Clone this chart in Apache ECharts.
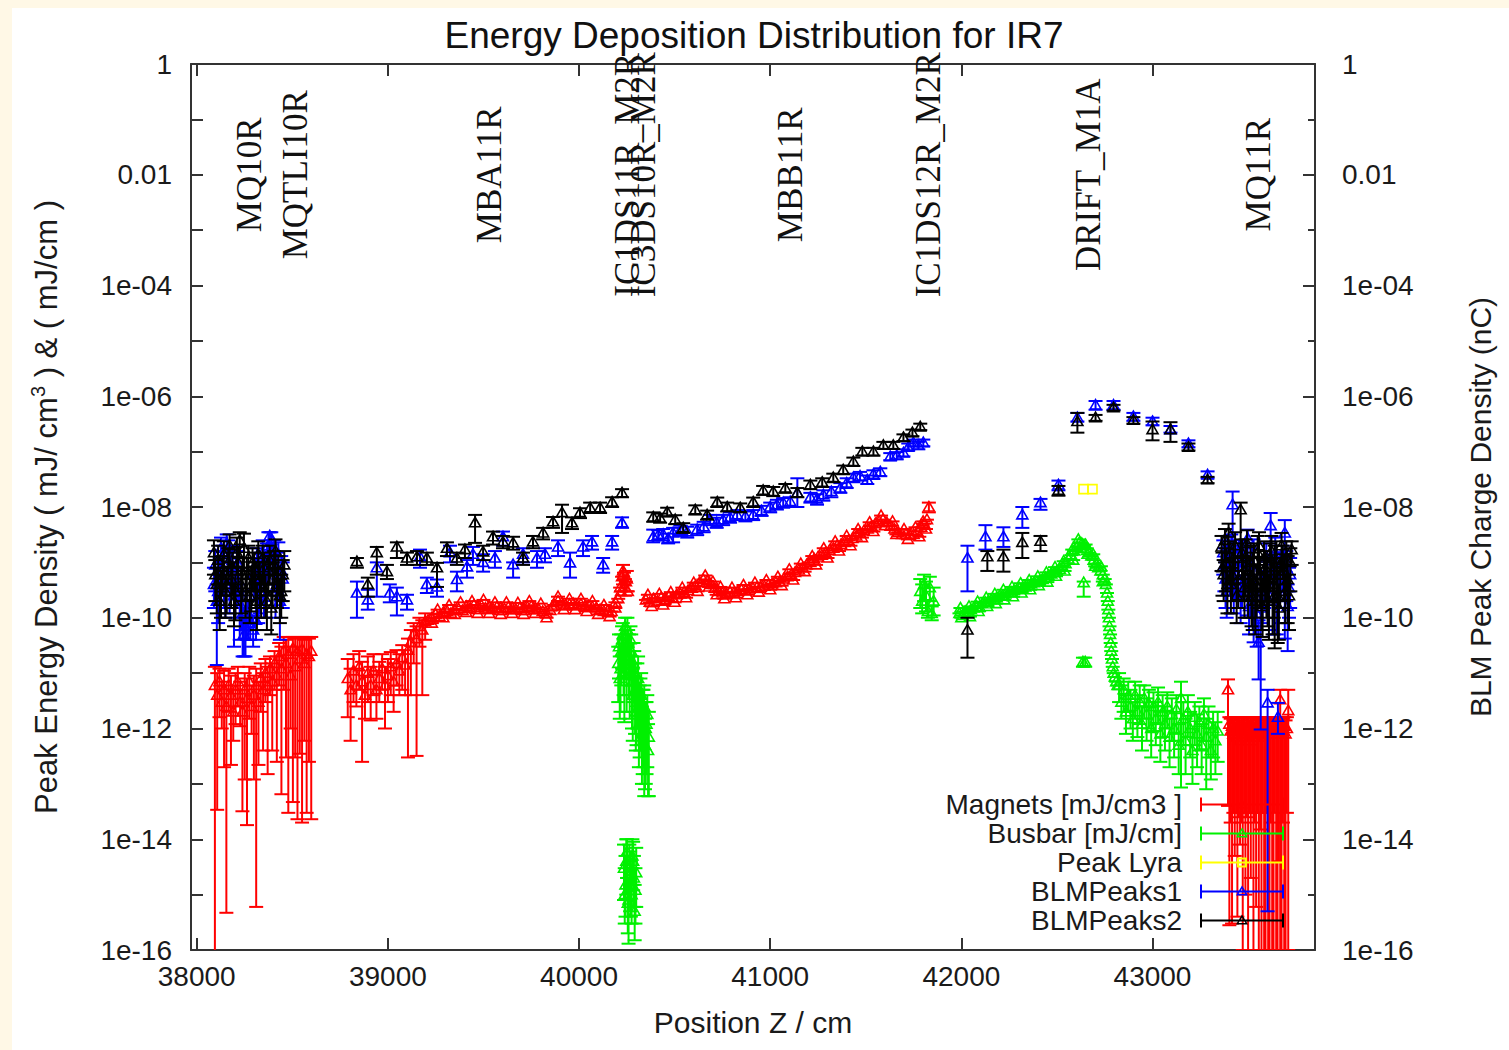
<!DOCTYPE html>
<html>
<head>
<meta charset="utf-8">
<title>Energy Deposition Distribution for IR7</title>
<script src="https://cdn.jsdelivr.net/npm/echarts@6/dist/echarts.min.js"></script>
<style>
  html, body { margin: 0; padding: 0; background: #fff8e6; }
  #chart { width: 1509px; height: 1050px; }
</style>
</head>
<body>
<div id="chart"></div>
<script>
// ---- axis ticks ----
const xTickValues = [38000, 39000, 40000, 41000, 42000, 43000];
const xTickLabels = ['38000', '39000', '40000', '41000', '42000', '43000'];
const yTickValues = [1e-16, 1e-14, 1e-12, 1e-10, 1e-8, 1e-6, 1e-4, 0.01, 1];
const yTickLabels = ['1e-16', '1e-14', '1e-12', '1e-10', '1e-08', '1e-06', '1e-04', '0.01', '1'];

// ---- element names along the beam line (drawn at y = 0.01) ----
const elementNames = ['MQ10R', 'MQTLI10R', 'MBA11R', 'IC1DS11R_M2R', 'IC3DS10R_M2R', 'MBB11R', 'IC1DS12R_M2R', 'DRIFT_M1A', 'MQ11R'];
const elementPos = [38277, 38518, 39534, 40251, 40335, 41105, 41827, 42665, 43555];
const elementLabelY = 0.01;

// ---- Magnets [mJ/cm3] : [z, value, low, high] ----
const magnetsQ10 = [
  [38095, 6e-12, 5e-17, 1.3e-11], [38107, 4e-12, 3.4e-14, 1e-11], [38119, 7e-12, 1.6e-12, 1.2e-11],
  [38131, 3e-12, 1e-12, 7e-12], [38143, 5e-12, 2e-13, 1.1e-11], [38155, 2.5e-12, 4.7e-16, 6e-12],
  [38167, 6e-12, 2e-12, 1.2e-11], [38179, 4e-12, 2.2e-13, 9e-12], [38191, 2e-12, 6e-13, 5e-12],
  [38203, 5e-12, 1.2e-12, 1e-11], [38215, 7e-12, 2.5e-12, 1.3e-11], [38227, 3e-12, 1.1e-12, 7e-12],
  [38239, 2e-12, 3.2e-14, 5e-12], [38251, 5e-12, 1.2e-13, 1e-11], [38263, 3.5e-12, 1.8e-14, 8e-12],
  [38275, 7e-12, 1.5e-12, 1.3e-11], [38287, 2.5e-12, 8e-13, 6e-12], [38299, 4e-12, 1.2e-13, 9e-12],
  [38311, 6e-12, 6e-16, 1.2e-11], [38323, 3e-12, 2.2e-13, 7e-12], [38335, 8e-12, 2e-12, 1.5e-11],
  [38347, 5e-12, 4e-13, 1e-11], [38359, 1e-11, 3e-12, 1.8e-11], [38371, 6e-12, 1.5e-13, 1.3e-11],
  [38383, 1.2e-11, 4e-12, 2e-11], [38395, 7e-12, 4e-13, 1.5e-11], [38407, 1.5e-11, 5e-12, 2.5e-11],
  [38419, 9e-12, 2.5e-13, 2e-11], [38431, 2e-11, 6e-12, 3.5e-11], [38443, 1.2e-11, 6.5e-14, 3e-11],
  [38455, 2.5e-11, 5e-12, 4.5e-11], [38467, 1.5e-11, 3e-13, 4e-11], [38479, 2.2e-11, 3e-14, 4.5e-11],
  [38491, 9e-12, 1e-12, 3e-11], [38503, 2.8e-11, 4.7e-14, 4.5e-11], [38515, 1.3e-11, 3e-13, 4.2e-11],
  [38527, 2.5e-11, 2.3e-14, 4.5e-11], [38539, 1.8e-11, 3.5e-13, 4.3e-11], [38551, 2.7e-11, 2e-14, 4.5e-11],
  [38563, 1.5e-11, 6e-13, 4e-11], [38575, 2.2e-11, 3e-14, 4.5e-11], [38587, 2e-11, 2.5e-13, 4.2e-11],
  [38599, 2.5e-11, 2.3e-14, 4.5e-11]
];
const magnetsA11 = [
  [38790, 8e-12, 1.6e-12, 1.8e-11], [38805, 5e-12, 6e-13, 1.2e-11], [38820, 1.1e-11, 3e-12, 2.2e-11],
  [38835, 6e-12, 2.5e-12, 1.2e-11], [38850, 1.3e-11, 5e-12, 2.5e-11], [38865, 7e-12, 2.5e-13, 1.6e-11],
  [38880, 4e-12, 1.5e-12, 9e-12], [38895, 1e-11, 3e-12, 2e-11], [38910, 6e-12, 1.4e-12, 1.3e-11],
  [38925, 1.1e-11, 4e-12, 2.2e-11], [38940, 5e-12, 1.5e-12, 1.1e-11], [38955, 8e-12, 3e-12, 1.6e-11],
  [38970, 1.2e-11, 5e-12, 2.2e-11], [38985, 6e-12, 1e-12, 1.3e-11], [39000, 9e-12, 3e-12, 1.8e-11],
  [39015, 1.3e-11, 4e-12, 2.4e-11], [39030, 7e-12, 2e-12, 1.5e-11], [39045, 1.5e-11, 6e-12, 2.6e-11],
  [39060, 1.1e-11, 4e-12, 2.2e-11], [39075, 1.9e-11, 5e-12, 3.2e-11], [39090, 1.4e-11, 4e-12, 2.6e-11],
  [39105, 2.6e-11, 3e-13, 4.2e-11], [39120, 3.6e-11, 4e-12, 6e-11], [39135, 5e-11, 1.5e-11, 8e-11],
  [39150, 4.2e-11, 3.2e-13, 7e-11], [39165, 7e-11, 3e-11, 1e-10], [39180, 6e-11, 4e-12, 9e-11],
  [39195, 8.5e-11, 4e-11, 1.2e-10],
  [39210, 9e-11], [39230, 1e-10], [39250, 1.15e-10], [39270, 1.05e-10], [39290, 1.25e-10],
  [39310, 1.3e-10], [39330, 1.2e-10], [39350, 1.4e-10], [39370, 1.45e-10], [39390, 1.35e-10],
  [39410, 1.6e-10], [39430, 1.5e-10], [39450, 1.7e-10], [39470, 1.55e-10], [39490, 1.65e-10],
  [39510, 1.5e-10], [39530, 1.6e-10], [39550, 1.45e-10], [39570, 1.55e-10], [39590, 1.5e-10],
  [39610, 1.45e-10], [39630, 1.55e-10], [39650, 1.5e-10], [39670, 1.4e-10], [39690, 1.5e-10],
  [39710, 1.45e-10], [39730, 1.55e-10], [39750, 1.6e-10], [39770, 1.5e-10], [39790, 1.4e-10],
  [39810, 1.3e-10], [39830, 1.2e-10], [39850, 1.35e-10], [39870, 1.7e-10], [39890, 2e-10],
  [39910, 1.85e-10], [39930, 1.7e-10], [39950, 1.75e-10], [39970, 1.8e-10], [39990, 1.7e-10],
  [40010, 1.75e-10], [40030, 1.6e-10], [40050, 1.65e-10], [40070, 1.55e-10], [40090, 1.5e-10],
  [40110, 1.4e-10], [40130, 1.3e-10], [40150, 1.35e-10], [40170, 1.3e-10], [40190, 1.5e-10],
  [40205, 2.2e-10], [40215, 3.5e-10], [40225, 5.5e-10], [40235, 6.5e-10], [40245, 4.5e-10],
  [40255, 3e-10]
];
// upper / lower rim of the same band
const magnetsA11Edge = [
  [39230, 8e-11], [39260, 1.4e-10], [39290, 1e-10], [39320, 1.7e-10], [39350, 1.15e-10],
  [39380, 1.9e-10], [39410, 1.25e-10], [39440, 2e-10], [39470, 1.2e-10], [39500, 2.1e-10],
  [39530, 1.2e-10], [39560, 1.9e-10], [39590, 1.15e-10], [39620, 1.9e-10], [39650, 1.2e-10],
  [39680, 1.85e-10], [39710, 1.15e-10], [39740, 2e-10], [39770, 1.2e-10], [39800, 1.8e-10],
  [39830, 1e-10], [39860, 1.6e-10], [39890, 2.4e-10], [39920, 1.4e-10], [39950, 2.2e-10],
  [39980, 1.4e-10], [40010, 2.2e-10], [40040, 1.3e-10], [40070, 2e-10], [40100, 1.15e-10],
  [40130, 1.7e-10], [40160, 1.05e-10], [40190, 1.9e-10], [40220, 3e-10], [40230, 7e-10, 4e-10, 9e-10],
  [40240, 3.5e-10, 2.5e-10, 5e-10], [40250, 5e-10, 3e-10, 7e-10]
];
const magnetsB11 = [
  [40350, 2.1e-10], [40370, 1.9e-10], [40390, 2.2e-10], [40410, 2e-10], [40430, 2.3e-10],
  [40450, 2.1e-10], [40470, 2.4e-10], [40490, 2.3e-10], [40510, 2.6e-10], [40530, 2.7e-10],
  [40550, 2.9e-10], [40570, 3.1e-10], [40590, 3.4e-10], [40610, 3.8e-10], [40630, 4.3e-10],
  [40650, 4.9e-10], [40670, 4.6e-10], [40690, 4e-10], [40710, 3.4e-10], [40730, 3e-10],
  [40750, 2.8e-10], [40770, 2.7e-10], [40790, 2.9e-10], [40810, 2.8e-10], [40830, 3e-10],
  [40850, 3.2e-10], [40870, 3.1e-10], [40890, 3.3e-10], [40910, 3.4e-10], [40930, 3.5e-10],
  [40950, 3.6e-10], [40970, 3.7e-10], [40990, 3.9e-10], [41010, 4.1e-10], [41030, 4.3e-10],
  [41050, 4.5e-10], [41070, 5e-10], [41090, 5.5e-10], [41110, 6e-10], [41130, 6.6e-10],
  [41150, 7.3e-10], [41170, 8e-10], [41190, 9e-10], [41210, 1e-9], [41230, 1.15e-9],
  [41250, 1.25e-9], [41270, 1.35e-9], [41290, 1.5e-9], [41310, 1.65e-9], [41330, 1.8e-9],
  [41350, 2e-9], [41370, 2.1e-9], [41390, 2.3e-9], [41410, 2.5e-9], [41430, 2.7e-9],
  [41450, 3e-9], [41470, 3.4e-9], [41490, 3.7e-9], [41510, 4e-9], [41530, 4.5e-9],
  [41550, 5e-9], [41570, 5.5e-9], [41590, 5.9e-9], [41610, 5.2e-9], [41630, 4.5e-9],
  [41650, 4e-9], [41670, 3.5e-9], [41690, 3.2e-9], [41710, 3.2e-9], [41730, 3.1e-9],
  [41750, 3.2e-9], [41770, 3.6e-9], [41790, 4.3e-9], [41805, 5e-9], [41820, 5.9e-9],
  [41830, 1e-8, 8e-9, 1.2e-8]
];
const magnetsB11Edge = [
  [40360, 2.6e-10], [40380, 1.6e-10], [40420, 2.7e-10], [40440, 1.7e-10], [40480, 2.9e-10],
  [40500, 1.9e-10], [40540, 3.5e-10], [40560, 2.3e-10], [40600, 4.3e-10], [40620, 3e-10],
  [40660, 5.8e-10], [40680, 3.6e-10], [40700, 4.5e-10], [40720, 2.6e-10], [40740, 3.6e-10],
  [40760, 2.2e-10], [40800, 3.5e-10], [40820, 2.3e-10], [40860, 3.9e-10], [40880, 2.6e-10],
  [40920, 4.3e-10], [40940, 2.9e-10], [40980, 4.8e-10], [41000, 3.2e-10], [41040, 5.5e-10],
  [41060, 3.8e-10], [41100, 7.5e-10], [41120, 4.8e-10], [41160, 9.5e-10], [41180, 6.8e-10],
  [41220, 1.3e-9], [41240, 9e-10], [41280, 1.8e-9], [41300, 1.2e-9], [41340, 2.4e-9],
  [41360, 1.6e-9], [41400, 3e-9], [41420, 2e-9], [41460, 4e-9], [41480, 2.8e-9],
  [41520, 5.3e-9], [41540, 3.6e-9], [41580, 7e-9], [41600, 4.6e-9], [41640, 5.5e-9],
  [41660, 3.2e-9], [41700, 4e-9], [41720, 2.6e-9], [41760, 4.3e-9], [41780, 2.9e-9],
  [41800, 5.5e-9], [41815, 4e-9]
];
const magnetsQ11 = [
  [43395, 5e-12, 4e-14, 7.7e-12], [43402, 1.2e-12, 2.8e-16, 1.6e-12], [43409, 9e-13, 2e-14, 1.5e-12],
  [43416, 1.1e-12, 3e-16, 1.6e-12], [43423, 8e-13, 3e-14, 1.4e-12], [43430, 1e-12, 5e-15, 1.6e-12],
  [43437, 7e-13, 3e-14, 1.3e-12], [43444, 1.1e-12, 4e-16, 1.6e-12], [43451, 9e-13, 2.5e-14, 1.5e-12],
  [43458, 6e-13, 8e-15, 1.2e-12], [43465, 1e-12, 2e-14, 1.6e-12], [43472, 8e-13, 1e-16, 1.4e-12],
  [43479, 1.1e-12, 3e-14, 1.6e-12], [43486, 7e-13, 1e-15, 1.3e-12], [43493, 1e-12, 2.5e-14, 1.6e-12],
  [43500, 9e-13, 1e-16, 1.5e-12], [43507, 6e-13, 3e-14, 1.2e-12], [43514, 1.1e-12, 2e-15, 1.6e-12],
  [43521, 8e-13, 3e-14, 1.4e-12], [43528, 1e-12, 1e-16, 1.6e-12], [43535, 7e-13, 2e-14, 1.3e-12],
  [43542, 1e-12, 6e-16, 1.6e-12], [43549, 9e-13, 3e-14, 1.5e-12], [43556, 1.1e-12, 1e-16, 1.6e-12],
  [43563, 8e-13, 1.5e-14, 1.4e-12], [43570, 1e-12, 1e-16, 1.6e-12], [43577, 7e-13, 3e-14, 1.3e-12],
  [43584, 1e-12, 1e-16, 1.6e-12], [43591, 9e-13, 1e-16, 1.5e-12], [43598, 1.1e-12, 3e-14, 1.6e-12],
  [43605, 8e-13, 1e-16, 1.4e-12], [43612, 1e-12, 1e-16, 1.6e-12], [43619, 9e-13, 2e-14, 1.5e-12],
  [43626, 1.1e-12, 1e-16, 1.6e-12], [43633, 8e-13, 1e-16, 1.4e-12], [43640, 1e-12, 3e-14, 1.6e-12],
  [43647, 9e-13, 1e-16, 1.5e-12], [43654, 1.1e-12, 1e-16, 1.6e-12], [43661, 8e-13, 4e-15, 1.4e-12],
  [43668, 3.3e-12, 1e-16, 5e-12], [43675, 1e-12, 1e-16, 1.6e-12], [43682, 9e-13, 2e-14, 1.5e-12],
  [43689, 1.1e-12, 1e-16, 1.6e-12], [43696, 8e-13, 1e-16, 1.4e-12], [43703, 1e-12, 3e-14, 1.6e-12],
  [43710, 2.1e-12, 1e-16, 5e-12]
];

// ---- Busbar [mJ/cm] ----
const busbarDS10 = [
  [40205, 1.5e-11, 3e-12, 3e-11], [40213, 8e-12, 1.5e-12, 2e-11], [40221, 2.5e-11, 6e-12, 5e-11],
  [40229, 5e-11, 2e-11, 8e-11], [40237, 1e-11, 1.3e-12, 3e-11], [40245, 3e-11, 8e-12, 6e-11],
  [40253, 6e-11, 2.5e-11, 1e-10], [40261, 2e-11, 4e-12, 5e-11], [40269, 4e-11, 1.2e-11, 7e-11],
  [40277, 7e-12, 1e-12, 2e-11], [40285, 1.5e-11, 3e-12, 3.5e-11], [40293, 5e-12, 8e-13, 1.5e-11],
  [40301, 3e-12, 5e-13, 8e-12], [40309, 8e-12, 1e-12, 2e-11], [40317, 2e-12, 3e-13, 6e-12],
  [40325, 4e-12, 5e-13, 1e-11], [40333, 1.5e-12, 1.5e-13, 5e-12], [40341, 2.5e-12, 6e-14, 6e-12],
  [40349, 1e-12, 1e-13, 3e-12], [40357, 1.8e-12, 2e-13, 4e-12], [40365, 7e-13, 6e-14, 2e-12],
  [40209, 3e-11, 8e-12, 5e-11], [40217, 1.2e-11, 2e-12, 3e-11], [40225, 4e-11, 1.2e-11, 7e-11],
  [40233, 1.8e-11, 4e-12, 4e-11], [40241, 7e-11, 3e-11, 1e-10], [40249, 1.2e-11, 2e-12, 3e-11],
  [40257, 3.5e-11, 9e-12, 6e-11], [40265, 9e-12, 1.5e-12, 2.5e-11], [40273, 2.5e-11, 6e-12, 5e-11],
  [40281, 4e-12, 6e-13, 1.2e-11], [40289, 1e-11, 2e-12, 2.5e-11], [40297, 2e-12, 4e-13, 6e-12],
  [40305, 6e-12, 1e-12, 1.5e-11], [40313, 1.2e-12, 2e-13, 4e-12], [40321, 3e-12, 4e-13, 8e-12],
  [40329, 8e-13, 1e-13, 2.5e-12], [40337, 2e-12, 2e-13, 5e-12], [40345, 5e-13, 8e-14, 1.5e-12],
  [40353, 1.2e-12, 1.5e-13, 3e-12], [40361, 4e-13, 6e-14, 1.2e-12],
  [40235, 3e-15, 8e-16, 8e-15], [40243, 1.5e-15, 4e-16, 5e-15], [40251, 6e-15, 2e-15, 1e-14],
  [40259, 8e-16, 1.3e-16, 2e-15], [40267, 2e-15, 5e-16, 6e-15], [40275, 1e-15, 3e-16, 3e-15],
  [40283, 4e-15, 1.2e-15, 9e-15], [40291, 5e-16, 1.5e-16, 1.5e-15], [40299, 2.5e-15, 6e-16, 7e-15],
  [40239, 1e-15, 3e-16, 3e-15], [40247, 4e-15, 1e-15, 1e-14], [40255, 7e-16, 2e-16, 2e-15],
  [40263, 3e-15, 8e-16, 8e-15], [40271, 1.5e-15, 4e-16, 4e-15], [40279, 5e-15, 1.5e-15, 1e-14],
  [40287, 2e-15, 6e-16, 5e-15], [40295, 1.2e-15, 3e-16, 3e-15]
];
const busbarDS12 = [
  [41785, 3e-10, 1.5e-10, 5e-10], [41795, 2e-10, 1.2e-10, 4e-10], [41805, 4e-10, 2e-10, 6e-10],
  [41815, 2.5e-10, 1.3e-10, 4.5e-10], [41825, 1.3e-10, 1e-10, 2e-10], [41835, 3.5e-10, 2e-10, 5.5e-10],
  [41845, 1.2e-10, 9e-11, 1.6e-10], [41855, 2e-10, 1.1e-10, 3.5e-10]
];
const busbarDrift = [
  [41990, 1.2e-10], [42005, 1.1e-10], [42020, 1.3e-10], [42035, 1.25e-10], [42050, 1.4e-10],
  [42065, 1.5e-10], [42080, 1.6e-10], [42095, 1.55e-10], [42110, 1.8e-10], [42125, 1.9e-10],
  [42140, 1.95e-10], [42155, 2.1e-10], [42170, 2.15e-10], [42185, 2.3e-10], [42200, 2.45e-10],
  [42215, 2.5e-10], [42230, 2.7e-10], [42245, 2.8e-10], [42260, 2.9e-10], [42275, 3.1e-10],
  [42290, 3.2e-10], [42305, 3.4e-10], [42320, 3.5e-10], [42335, 3.6e-10], [42350, 3.9e-10],
  [42365, 4.1e-10], [42380, 4.3e-10], [42395, 4.5e-10], [42410, 4.7e-10], [42425, 4.9e-10],
  [42440, 5.3e-10], [42455, 5.8e-10], [42470, 6.2e-10], [42485, 6.6e-10], [42500, 7e-10],
  [42515, 7.5e-10], [42530, 8.3e-10], [42545, 9.5e-10], [42560, 1.15e-9], [42575, 1.35e-9],
  [42590, 1.6e-9], [42605, 1.9e-9], [42618, 2.3e-9], [42630, 2.2e-9], [42642, 2e-9],
  [42655, 1.8e-9], [42668, 1.5e-9], [42680, 1.3e-9], [42692, 1.1e-9], [42704, 9.5e-10],
  [42716, 8e-10], [42728, 7e-10], [42740, 6e-10], [42750, 5e-10], [42756, 4e-10],
  [42762, 2.8e-10], [42766, 2e-10], [42769, 1.4e-10], [42772, 1e-10], [42775, 7e-11],
  [42778, 5e-11], [42781, 3.5e-11], [42784, 2.5e-11], [42788, 1.8e-11], [42792, 1.3e-11],
  [42797, 1e-11], [42803, 8.5e-12], [42810, 7e-12], [42817, 6e-12],
  [42825, 6e-12, 3e-12, 1e-11], [42837, 3e-12, 1.5e-12, 6e-12], [42849, 5e-12, 2e-12, 8e-12],
  [42861, 2e-12, 8e-13, 4e-12], [42873, 4e-12, 2e-12, 7e-12], [42885, 2.5e-12, 1e-12, 5e-12],
  [42897, 1.5e-12, 6e-13, 3e-12], [42909, 4e-12, 1.5e-12, 7e-12], [42921, 2e-12, 7e-13, 4e-12],
  [42933, 3e-12, 1.2e-12, 6e-12], [42945, 1.2e-12, 4e-13, 2.5e-12], [42957, 3.5e-12, 1.5e-12, 6e-12],
  [42969, 1.8e-12, 6e-13, 3.5e-12], [42981, 2.8e-12, 1e-12, 5e-12], [42993, 1e-12, 3e-13, 2.5e-12],
  [43005, 2.5e-12, 9e-13, 4.5e-12], [43017, 1.5e-12, 5e-13, 3e-12], [43029, 3e-12, 1.2e-12, 5.5e-12],
  [43041, 8e-13, 2.5e-13, 2e-12], [43053, 2e-12, 7e-13, 4e-12], [43065, 1.2e-12, 4e-13, 2.5e-12],
  [43077, 2.5e-12, 1e-12, 4.5e-12], [43089, 7e-13, 2e-13, 1.5e-12], [43101, 1.8e-12, 6e-13, 3.5e-12],
  [43113, 1e-12, 3e-13, 2e-12], [43125, 2.2e-12, 8e-13, 4e-12], [43137, 5e-13, 1.5e-13, 1.2e-12],
  [43149, 3.5e-12, 8.6e-14, 7e-12], [43161, 1.5e-12, 5e-13, 3e-12], [43173, 6e-13, 1.5e-13, 1.5e-12],
  [43185, 2e-12, 7e-13, 4e-12], [43197, 1e-12, 3e-13, 2e-12], [43209, 4e-13, 1e-13, 1e-12],
  [43221, 1.6e-12, 5e-13, 3e-12], [43233, 8e-13, 2e-13, 1.8e-12], [43245, 1.3e-12, 4e-13, 2.5e-12],
  [43257, 5e-13, 1.5e-13, 1.2e-12], [43269, 1.8e-12, 6e-13, 3.5e-12], [43281, 7e-13, 8e-14, 1.5e-12],
  [43293, 1.2e-12, 3e-13, 2.5e-12], [43305, 4e-13, 1.2e-13, 1e-12], [43317, 1e-12, 3e-13, 2e-12],
  [43329, 6e-13, 1.5e-13, 1.3e-12], [43341, 9e-13, 2.5e-13, 2e-12],
  [42640, 4.3e-10, 2.4e-10, 4.5e-10], [42636, 1.6e-11, 1.3e-11, 1.9e-11], [42648, 1.6e-11, 1.3e-11, 1.9e-11]
];
const busbarDriftEdge = [
  [41995, 1.5e-10], [42000, 1e-10], [42040, 1.6e-10], [42045, 1.05e-10], [42085, 1.95e-10],
  [42090, 1.3e-10], [42130, 2.3e-10], [42135, 1.6e-10], [42175, 2.7e-10], [42180, 1.8e-10],
  [42220, 3.2e-10], [42225, 2.1e-10], [42265, 3.6e-10], [42270, 2.4e-10], [42310, 4.2e-10],
  [42315, 2.8e-10], [42355, 4.8e-10], [42360, 3.2e-10], [42400, 5.6e-10], [42405, 3.8e-10],
  [42445, 6.6e-10], [42450, 4.4e-10], [42490, 8.2e-10], [42495, 5.6e-10], [42535, 1.05e-9],
  [42540, 7e-10], [42580, 1.7e-9], [42585, 1.1e-9], [42612, 2.6e-9], [42625, 1.8e-9],
  [42650, 2.1e-9], [42660, 1.4e-9], [42690, 1.4e-9], [42700, 8.5e-10], [42730, 8.5e-10],
  [42740, 4.5e-10]
];

// ---- Peak Lyra ----
const lyraPeak = [[42639, 2.1e-8], [42686, 2.1e-8]];

// ---- BLMPeaks1 ----
const blm1Q10 = [
  [38090, 4e-10, 1.5e-10, 8e-10], [38105, 2e-10, 1.4e-11, 4e-10], [38120, 6e-10, 2e-10, 1.2e-9],
  [38135, 1.2e-9, 5e-10, 2e-9], [38150, 3e-10, 1e-10, 6e-10], [38165, 1.5e-9, 6e-10, 2.5e-9],
  [38180, 8e-10, 3e-10, 1.5e-9], [38195, 2.5e-10, 3e-11, 5e-10], [38210, 5e-10, 1.5e-10, 1e-9],
  [38225, 1.8e-10, 4e-11, 4e-10], [38240, 1.2e-10, 2e-11, 3e-10], [38255, 7e-11, 2e-11, 1.5e-10],
  [38270, 1e-10, 4e-11, 2e-10], [38280, 8e-11, 4e-11, 1.5e-10], [38295, 6e-11, 3e-11, 1.1e-10],
  [38310, 9e-11, 4e-11, 1.5e-10], [38285, 3e-10, 1e-10, 7e-10], [38300, 6e-10, 2e-10, 1.2e-9],
  [38315, 1e-9, 4e-10, 1.8e-9], [38330, 4e-10, 1.2e-10, 8e-10], [38345, 1.5e-9, 6e-10, 2.5e-9],
  [38360, 7e-10, 2e-10, 1.4e-9], [38375, 2e-9, 8e-10, 3.5e-9], [38390, 2.5e-9, 1e-9, 3.5e-9],
  [38405, 1.5e-9, 6e-10, 2.5e-9], [38420, 8e-10, 3e-10, 1.5e-9], [38435, 2e-10, 4e-11, 5e-10],
  [38450, 5e-10, 1.5e-10, 1e-9],
  [38097, 9e-10, 3e-10, 1.6e-9], [38112, 3e-10, 8e-11, 6e-10], [38127, 1.8e-9, 8e-10, 2.8e-9],
  [38142, 5e-10, 1.5e-10, 1e-9], [38157, 2.2e-9, 1e-9, 3.2e-9], [38172, 4e-10, 1.2e-10, 8e-10],
  [38187, 1.1e-9, 4e-10, 2e-9], [38202, 3.5e-10, 1e-10, 7e-10], [38217, 9e-10, 3e-10, 1.6e-9],
  [38232, 2.5e-10, 6e-11, 5e-10], [38247, 5e-11, 2e-11, 1e-10], [38262, 1.3e-10, 4e-11, 3e-10],
  [38322, 2.5e-10, 8e-11, 5e-10], [38337, 8e-10, 3e-10, 1.5e-9], [38352, 3e-10, 1e-10, 6e-10],
  [38367, 1.2e-9, 4e-10, 2.2e-9], [38382, 3e-9, 1.5e-9, 3.5e-9], [38397, 9e-10, 3e-10, 1.7e-9],
  [38412, 3.5e-10, 1e-10, 7e-10], [38427, 1.3e-9, 5e-10, 2.3e-9], [38442, 7e-10, 2e-10, 1.3e-9]
];
const blm1A11 = [
  [38838, 2.8e-10, 1e-10, 4.5e-10], [38895, 2.1e-10, 1.4e-10, 3.2e-10], [38942, 8e-10, 2.4e-10, 1e-9],
  [39010, 2.8e-10, 1.9e-10, 4e-10], [39047, 2.4e-10, 1.1e-10, 3.5e-10], [39100, 2.1e-10, 1.4e-10, 2.6e-10],
  [39168, 1.26e-9, 8e-10, 1.7e-9], [39204, 4e-10, 2.8e-10, 5.3e-10], [39257, 3.6e-10, 2.4e-10, 4.9e-10],
  [39325, 1.5e-9, 1e-9, 2e-9], [39361, 4.9e-10, 3e-10, 6.8e-10], [39414, 8.3e-10, 5.3e-10, 1.1e-9],
  [39445, 1.4e-9, 9e-10, 1.9e-9], [39498, 1e-9, 6.8e-10, 1.4e-9], [39560, 1.2e-9, 8e-10, 1.6e-9],
  [39602, 2.9e-9, 2e-9, 3.6e-9], [39655, 9.1e-10, 5.3e-10, 1e-9], [39707, 1.4e-9, 1e-9, 1.8e-9],
  [39780, 1.2e-9, 8e-10, 1.6e-9], [39822, 1.4e-9, 1e-9, 1.8e-9], [39890, 1.9e-9, 1.3e-9, 2.5e-9],
  [39953, 9.8e-10, 5.3e-10, 1.5e-9], [40021, 1.9e-9, 1.3e-9, 2.5e-9], [40068, 2.35e-9, 1.7e-9, 3e-9],
  [40126, 9.1e-10, 6.5e-10, 1.2e-9], [40173, 2.35e-9, 1.7e-9, 3e-9], [40225, 5.2e-9, 4.2e-9, 6.5e-9]
];
const blm1B11 = [
  [40388, 2.9e-9, 2.3e-9, 3.9e-9], [40414, 3.1e-9, 2.5e-9, 3.8e-9], [40440, 3.2e-9, 2.5e-9, 4e-9],
  [40466, 2.7e-9, 2.2e-9, 3.3e-9], [40492, 3.4e-9, 2.3e-9, 4.2e-9], [40530, 3.8e-9, 3e-9, 4.6e-9],
  [40566, 3.55e-9, 2.8e-9, 4.4e-9], [40618, 3.9e-9, 3.1e-9, 4.8e-9], [40652, 4.4e-9, 3.5e-9, 5.4e-9],
  [40686, 5.9e-9, 4.7e-9, 7.2e-9], [40720, 5.2e-9, 4.2e-9, 6.4e-9], [40754, 5.9e-9, 4.7e-9, 7.2e-9],
  [40790, 6.5e-9, 5.2e-9, 8e-9], [40827, 7.2e-9, 5.8e-9, 8.8e-9], [40870, 6.8e-9, 5.5e-9, 8.3e-9],
  [40911, 7.2e-9, 5.8e-9, 8.8e-9], [40955, 8.5e-9, 6.9e-9, 1.05e-8], [41000, 1e-8, 8e-9, 1.2e-8],
  [41035, 1.1e-8, 9e-9, 1.35e-8], [41068, 1.2e-8, 9.7e-9, 1.45e-8], [41105, 1.25e-8, 1e-8, 1.5e-8],
  [41142, 1.8e-8, 1e-8, 3.3e-8], [41210, 1.5e-8, 1.2e-8, 1.8e-8], [41245, 1.4e-8, 1.1e-8, 1.7e-8],
  [41278, 1.66e-8, 1.3e-8, 2e-8], [41320, 1.9e-8, 1.5e-8, 2.3e-8], [41367, 2.2e-8, 1.8e-8, 2.7e-8],
  [41400, 2.7e-8, 2.2e-8, 3.3e-8], [41435, 3.4e-8, 2.8e-8, 4e-8], [41470, 3.6e-8, 3e-8, 4.3e-8],
  [41508, 3.1e-8, 2.6e-8, 3.7e-8], [41540, 3.9e-8, 3.2e-8, 4.6e-8], [41576, 4.3e-8, 3.6e-8, 5e-8],
  [41628, 8.1e-8, 7e-8, 9.4e-8], [41662, 8.5e-8, 7.3e-8, 9.8e-8], [41697, 9.5e-8, 8.2e-8, 1.1e-7],
  [41722, 1.2e-7, 1.05e-7, 1.4e-7], [41749, 1.45e-7, 1.25e-7, 1.65e-7], [41775, 1.3e-7, 1.1e-7, 1.5e-7],
  [41801, 1.45e-7, 1.25e-7, 1.65e-7]
];
const blm1Drift = [
  [42032, 1.2e-9, 3e-10, 2e-9], [42126, 2.9e-9, 1.7e-9, 4.7e-9], [42220, 2.9e-9, 1.9e-9, 4.3e-9],
  [42319, 7.2e-9, 4.2e-9, 1e-8], [42414, 1.2e-8, 8.9e-9, 1.4e-8], [42508, 2.5e-8, 2e-8, 3e-8],
  [42607, 4.1e-7, 3.5e-7, 5e-7], [42702, 6.9e-7, 5.7e-7, 8.2e-7], [42796, 6.9e-7, 5.7e-7, 8.2e-7],
  [42900, 4.3e-7, 3.6e-7, 5e-7], [43000, 3.5e-7, 3e-7, 4.1e-7], [43094, 2.5e-7, 2.2e-7, 2.9e-7],
  [43188, 1.4e-7, 1.2e-7, 1.6e-7], [43288, 3.8e-8, 3.3e-8, 4.4e-8]
];
const blm1Q11 = [
  [43370, 1.5e-9, 6e-10, 2.5e-9], [43382, 5e-10, 1.5e-10, 1e-9], [43393, 1.7e-9, 5e-10, 3e-9],
  [43405, 8e-10, 2.5e-10, 1.5e-9], [43419, 1.1e-8, 4.9e-10, 1.9e-8], [43432, 6.5e-10, 2e-10, 1.2e-9],
  [43445, 8.3e-10, 2.2e-10, 2e-9], [43461, 2.4e-10, 8e-11, 5e-10], [43475, 1.2e-9, 4e-10, 2.2e-9],
  [43498, 2.7e-9, 1.1e-10, 3.9e-9], [43512, 4e-10, 1e-10, 8e-10], [43529, 3.6e-10, 3.6e-11, 2.6e-9],
  [43545, 1.2e-10, 3e-11, 3e-10], [43555, 3.6e-11, 7.7e-12, 9e-11], [43566, 1.5e-10, 9.6e-13, 4e-10],
  [43585, 6e-10, 1.5e-10, 1.2e-9], [43602, 2.9e-12, 5e-16, 5e-12], [43618, 4.6e-9, 9.1e-10, 7.8e-9],
  [43635, 2e-10, 5e-11, 5e-10], [43650, 4.9e-10, 5e-11, 1.5e-9], [43656, 1.6e-12, 8e-13, 2.9e-12],
  [43670, 8e-10, 2e-10, 1.5e-9], [43692, 3.4e-9, 4.2e-11, 5.8e-9], [43707, 1.6e-10, 2.5e-11, 4e-10],
  [43720, 6e-10, 1.5e-10, 1.2e-9],
  [43376, 9e-10, 3e-10, 1.8e-9], [43388, 3e-10, 1e-10, 6e-10], [43412, 2e-9, 8e-10, 3.2e-9],
  [43425, 4e-10, 1.2e-10, 9e-10], [43452, 1.5e-9, 5e-10, 2.5e-9], [43468, 5e-10, 1.5e-10, 1e-9],
  [43485, 1e-9, 3e-10, 2e-9], [43505, 1.6e-10, 5e-11, 4e-10], [43520, 9e-10, 3e-10, 1.8e-9],
  [43538, 2.5e-10, 7e-11, 6e-10], [43575, 3e-10, 8e-11, 7e-10], [43595, 1.2e-9, 4e-10, 2.2e-9],
  [43610, 2.5e-10, 6e-11, 6e-10], [43628, 7e-10, 2e-10, 1.4e-9], [43642, 1.5e-9, 5e-10, 2.8e-9],
  [43662, 3e-10, 8e-11, 7e-10], [43680, 1.1e-9, 3e-10, 2e-9], [43700, 8e-10, 2e-10, 1.6e-9],
  [43714, 3.5e-10, 1e-10, 8e-10]
];

// ---- BLMPeaks2 ----
const blm2Q10 = [
  [38090, 1.5e-9, 6e-10, 2.5e-9], [38105, 4e-10, 1.2e-10, 8e-10], [38120, 2e-10, 6e-11, 4e-10],
  [38135, 7e-10, 2.5e-10, 1.3e-9], [38150, 3e-10, 1e-10, 6e-10], [38165, 1e-9, 4e-10, 1.8e-9],
  [38180, 5e-10, 1.5e-10, 1e-9], [38195, 2e-10, 7e-11, 4e-10], [38210, 1.5e-9, 6e-10, 2.8e-9],
  [38225, 2.5e-9, 1.2e-9, 3.5e-9], [38240, 6e-10, 2e-10, 1.2e-9], [38255, 3e-10, 1e-10, 6e-10],
  [38270, 1.2e-9, 5e-10, 2e-9], [38285, 4e-10, 1.3e-10, 8e-10], [38300, 8e-10, 3e-10, 1.5e-9],
  [38315, 2e-10, 6e-11, 4e-10], [38330, 5e-10, 1.5e-10, 1e-9], [38345, 1.2e-9, 4e-10, 2e-9],
  [38360, 3e-10, 1e-10, 6e-10], [38375, 7e-10, 2.5e-10, 1.3e-9], [38390, 1.5e-10, 5e-11, 3e-10],
  [38405, 9e-10, 3e-10, 1.6e-9], [38420, 4e-10, 1.5e-10, 8e-10], [38435, 2.5e-10, 8e-11, 5e-10],
  [38450, 6e-10, 2e-10, 1.1e-9],
  [38097, 6e-10, 2e-10, 1.1e-9], [38112, 1.1e-9, 4e-10, 2e-9], [38127, 3.5e-10, 1e-10, 7e-10],
  [38142, 1.4e-9, 5e-10, 2.4e-9], [38157, 4e-10, 1.2e-10, 8e-10], [38172, 2e-9, 8e-10, 3.2e-9],
  [38187, 8e-10, 2.5e-10, 1.5e-9], [38202, 3e-10, 9e-11, 6e-10], [38217, 1e-9, 3e-10, 1.9e-9],
  [38232, 4e-10, 1.2e-10, 8e-10], [38247, 1.8e-9, 7e-10, 3.3e-9], [38262, 6e-10, 2e-10, 1.2e-9],
  [38277, 2.5e-10, 8e-11, 5e-10], [38292, 1e-9, 3e-10, 1.8e-9], [38307, 5e-10, 1.5e-10, 1e-9],
  [38322, 1.4e-9, 5e-10, 2.4e-9], [38337, 3e-10, 1e-10, 6e-10], [38352, 8e-10, 3e-10, 1.5e-9],
  [38367, 2e-10, 6e-11, 4e-10], [38382, 1.1e-9, 4e-10, 2e-9], [38397, 5e-10, 1.5e-10, 1e-9],
  [38412, 1.6e-9, 6e-10, 2.6e-9], [38427, 7e-10, 2.5e-10, 1.3e-9], [38442, 3e-10, 1e-10, 6e-10],
  [38458, 9e-10, 3e-10, 1.6e-9]
];
const blm2A11 = [
  [38838, 1.03e-9, 8e-10, 1.2e-9], [38895, 4e-10, 2.4e-10, 5.3e-10], [38942, 1.5e-9, 6e-10, 1.9e-9],
  [38995, 6.8e-10, 5e-10, 9e-10], [39047, 1.9e-9, 1.2e-9, 2.3e-9], [39100, 1.2e-9, 9e-10, 1.5e-9],
  [39152, 1.26e-9, 9e-10, 1.6e-9], [39204, 1.2e-9, 9e-10, 1.5e-9], [39257, 8e-10, 3.6e-10, 9.8e-10],
  [39309, 1.8e-9, 1.3e-9, 2.3e-9], [39361, 1.2e-9, 9e-10, 1.5e-9], [39403, 1.7e-9, 1.2e-9, 2.1e-9],
  [39456, 5.2e-9, 2.25e-9, 7.2e-9], [39498, 1.55e-9, 1.1e-9, 2e-9], [39550, 2.9e-9, 2.1e-9, 3.6e-9],
  [39602, 2.35e-9, 1.8e-9, 3e-9], [39655, 2.25e-9, 1.7e-9, 2.9e-9], [39707, 1.2e-9, 9e-10, 1.5e-9],
  [39759, 2.35e-9, 1.8e-9, 3e-9], [39812, 3.4e-9, 2.6e-9, 4.2e-9], [39864, 5.4e-9, 4.2e-9, 6.6e-9],
  [39911, 7.9e-9, 3.4e-9, 1.1e-8], [39963, 5.2e-9, 4e-9, 6.5e-9], [40005, 7.9e-9, 6.3e-9, 9.5e-9],
  [40058, 9.7e-9, 7.8e-9, 1.2e-8], [40110, 9.7e-9, 7.8e-9, 1.2e-8], [40173, 1.23e-8, 1e-8, 1.5e-8],
  [40225, 1.8e-8, 1.5e-8, 2.1e-8]
];
const blm2B11 = [
  [40388, 6.6e-9, 5.4e-9, 8e-9], [40424, 6.3e-9, 5.2e-9, 7.6e-9], [40461, 8.1e-9, 6.7e-9, 9.7e-9],
  [40503, 5.9e-9, 4.9e-9, 7.1e-9], [40545, 4.2e-9, 3.4e-9, 5.1e-9], [40608, 8.9e-9, 7.3e-9, 1.07e-8],
  [40670, 7.2e-9, 5.9e-9, 8.6e-9], [40723, 1.23e-8, 1e-8, 1.48e-8], [40775, 1e-8, 8.3e-9, 1.2e-8],
  [40843, 9.7e-9, 8e-9, 1.16e-8], [40911, 1.23e-8, 1e-8, 1.48e-8], [40963, 2e-8, 1.65e-8, 2.4e-8],
  [41016, 1.9e-8, 1.57e-8, 2.3e-8], [41079, 2.2e-8, 1.8e-8, 2.6e-8], [41142, 1.8e-8, 1.5e-8, 2.2e-8],
  [41210, 2.5e-8, 2.1e-8, 3e-8], [41272, 2.8e-8, 2.3e-8, 3.3e-8], [41330, 3.4e-8, 2.8e-8, 4e-8],
  [41382, 4.7e-8, 3.9e-8, 5.6e-8], [41435, 6.6e-8, 5.5e-8, 7.8e-8], [41482, 1e-7, 8.5e-8, 1.17e-7],
  [41540, 1e-7, 8.5e-8, 1.17e-7], [41592, 1.3e-7, 1.12e-7, 1.5e-7], [41644, 1.3e-7, 1.12e-7, 1.5e-7],
  [41697, 1.8e-7, 1.55e-7, 2.05e-7], [41744, 2.2e-7, 1.9e-7, 2.5e-7], [41785, 2.8e-7, 2.45e-7, 3.2e-7]
];
const blm2Drift = [
  [42032, 6e-11, 1.9e-11, 1e-10], [42136, 1.26e-9, 7e-10, 1.6e-9], [42220, 1.26e-9, 6.8e-10, 1.7e-9],
  [42319, 2.3e-9, 1.2e-9, 3.4e-9], [42414, 2.4e-9, 1.6e-9, 3e-9], [42508, 2e-8, 1.6e-8, 2.4e-8],
  [42607, 3.5e-7, 2.2e-7, 5e-7], [42702, 4.1e-7, 3.6e-7, 4.6e-7], [42796, 6.2e-7, 5.5e-7, 7e-7],
  [42900, 3.7e-7, 3.2e-7, 4.2e-7], [43000, 2.5e-7, 1.6e-7, 3.5e-7], [43094, 2.5e-7, 1.5e-7, 3.4e-7],
  [43188, 1.2e-7, 1.05e-7, 1.4e-7], [43288, 3.1e-8, 2.7e-8, 3.5e-8]
];
const blm2Q11 = [
  [43361, 1.9e-9, 7e-10, 3e-9], [43372, 6e-10, 2e-10, 1.1e-9], [43385, 9.7e-10, 3e-10, 1.8e-9],
  [43398, 3.4e-9, 1.5e-9, 5e-9], [43410, 4e-10, 1.2e-10, 8e-10], [43424, 1.2e-9, 4e-10, 2.2e-9],
  [43440, 2.5e-10, 8e-11, 5e-10], [43461, 8.9e-9, 1.2e-9, 1.2e-8], [43475, 7e-10, 2e-10, 1.3e-9],
  [43487, 1.26e-9, 2.4e-10, 2.6e-9], [43500, 3e-10, 1e-10, 6e-10], [43512, 1e-9, 3e-10, 2e-9],
  [43524, 4.9e-10, 6e-11, 1.5e-9], [43537, 2e-10, 5e-11, 4e-10], [43550, 1.5e-9, 1.5e-10, 3e-9],
  [43563, 6e-10, 1.5e-10, 1.2e-9], [43576, 1.6e-10, 4.5e-11, 4.9e-10], [43589, 8e-10, 2e-10, 1.6e-9],
  [43602, 3.6e-10, 7e-11, 1.1e-9], [43615, 1.2e-9, 3e-10, 2.2e-9], [43628, 2.2e-10, 5e-11, 5e-10],
  [43639, 8.3e-10, 2.8e-11, 2e-9], [43655, 2.5e-10, 3.5e-11, 8e-10], [43668, 6e-10, 1.5e-10, 1.2e-9],
  [43681, 1.1e-9, 5e-10, 2e-9], [43694, 3e-10, 8e-11, 6e-10], [43707, 4.9e-10, 8e-11, 1.3e-9],
  [43728, 1.7e-9, 9e-10, 2.4e-9],
  [43366, 8e-10, 2.5e-10, 1.5e-9], [43379, 2.5e-9, 1e-9, 4e-9], [43392, 4e-10, 1.2e-10, 8e-10],
  [43404, 1.3e-9, 4e-10, 2.4e-9], [43417, 6e-10, 2e-10, 1.2e-9], [43432, 2e-9, 7e-10, 3.5e-9],
  [43448, 5e-10, 1.5e-10, 1e-9], [43468, 1.5e-9, 5e-10, 2.6e-9], [43481, 3.5e-10, 1e-10, 7e-10],
  [43494, 2.2e-9, 7e-10, 3.8e-9], [43506, 6e-10, 2e-10, 1.2e-9], [43518, 2.5e-10, 7e-11, 5e-10],
  [43530, 1.1e-9, 3e-10, 2.2e-9], [43544, 4e-10, 1e-10, 9e-10], [43557, 2e-9, 6e-10, 3.5e-9],
  [43570, 3e-10, 6e-11, 8e-10], [43583, 1.2e-9, 3e-10, 2.4e-9], [43596, 5e-10, 1e-10, 1.2e-9],
  [43609, 2e-10, 4e-11, 6e-10], [43622, 1.6e-9, 5e-10, 3e-9], [43634, 4e-10, 1e-10, 1e-9],
  [43648, 1e-9, 2e-10, 2.4e-9], [43661, 1.5e-10, 4e-11, 4e-10], [43675, 2e-9, 7e-10, 3.4e-9],
  [43688, 7e-10, 2e-10, 1.4e-9], [43700, 1.2e-9, 3e-10, 2.4e-9], [43714, 2.5e-10, 6e-11, 6e-10],
  [43721, 1e-9, 3e-10, 1.8e-9]
];

// ---- look ----
const FONT = "'Liberation Sans', Arial, sans-serif";
const SERIF = "'Liberation Serif', 'Times New Roman', serif";
const AXIS_COLOR = '#333';
const TEXT_COLOR = '#1a1a1a';
const CAP = 7;

const SERIES_DEFS = [
  { name: 'Magnets [mJ/cm3 ]', color: '#ff0000', marker: 'triangle',
    data: magnetsQ10.concat(magnetsA11, magnetsA11Edge, magnetsB11, magnetsB11Edge, magnetsQ11) },
  { name: 'Busbar [mJ/cm]', color: '#00f000', marker: 'triangle',
    data: busbarDS10.concat(busbarDS12, busbarDrift, busbarDriftEdge) },
  { name: 'Peak Lyra', color: '#ffff00', marker: 'square', data: lyraPeak },
  { name: 'BLMPeaks1', color: '#0000ff', marker: 'triangle',
    data: blm1Q10.concat(blm1A11, blm1B11, blm1Drift, blm1Q11) },
  { name: 'BLMPeaks2', color: '#000000', marker: 'triangle',
    data: blm2Q10.concat(blm2A11, blm2B11, blm2Drift, blm2Q11) }
];

// gnuplot style key samples: line with end caps and the point symbol in the middle
const PAD = 'M0,7L0.1,7L0.1,7.1Z';
const SAMPLE = 'M13,6H97V8H13Z M13,0H15V14H13Z M95,0H97V14H95Z';
const ICON_TRI = 'path://' + PAD + ' ' + SAMPLE + ' M55,1L61,11L49,11Z M55,4L51.5,9.5L58.5,9.5Z';
const ICON_SQ = 'path://' + PAD + ' ' + SAMPLE + ' M50,2H60V12H50Z M52,4V10H58V4Z';

function yLabel(v) {
  for (let i = 0; i < yTickValues.length; i++) {
    if (Math.abs(Math.log10(v) - Math.log10(yTickValues[i])) < 1e-6) return yTickLabels[i];
  }
  return '';
}
function xLabel(v) {
  const i = xTickValues.indexOf(v);
  return i < 0 ? '' : xTickLabels[i];
}

function markerShape(kind, cx, cy, color) {
  if (kind === 'square') {
    return { type: 'rect', shape: { x: cx - 4.5, y: cy - 4.5, width: 9, height: 9 },
      style: { stroke: color, fill: 'none', lineWidth: 1.6 } };
  }
  return { type: 'polygon', shape: { points: [[cx, cy - 5.5], [cx + 5.5, cy + 4], [cx - 5.5, cy + 4]] },
    style: { stroke: color, fill: 'none', lineWidth: 1.6 } };
}

function makeRender(color, marker) {
  return function (params, api) {
    const x = api.value(0);
    const y = api.value(1);
    const lo = api.value(2);
    const hi = api.value(3);
    const p = api.coord([x, y]);
    const st = { stroke: color, lineWidth: 2 };
    const kids = [];
    if (marker !== 'square') {
      let yLo = p[1], yHi = p[1];
      if (lo > 0 && hi > 0) {
        yLo = api.coord([x, lo])[1];
        yHi = api.coord([x, hi])[1];
        kids.push({ type: 'line', shape: { x1: p[0], y1: yLo, x2: p[0], y2: yHi }, style: st });
        kids.push({ type: 'line', shape: { x1: p[0] - CAP, y1: yHi, x2: p[0] + CAP, y2: yHi }, style: st });
      }
      kids.push({ type: 'line', shape: { x1: p[0] - CAP, y1: yLo, x2: p[0] + CAP, y2: yLo }, style: st });
    }
    kids.push(markerShape(marker, p[0], p[1], color));
    return { type: 'group', children: kids };
  };
}

const series = SERIES_DEFS.map(function (d) {
  return {
    name: d.name,
    type: 'custom',
    coordinateSystem: 'cartesian2d',
    xAxisIndex: 0,
    yAxisIndex: 0,
    clip: true,
    silent: true,
    dimensions: ['z', 'v', 'lo', 'hi'],
    encode: { x: 0, y: 1 },
    itemStyle: { color: d.color },
    renderItem: makeRender(d.color, d.marker),
    data: d.data
  };
});

series.push({
  name: 'elements',
  type: 'custom',
  coordinateSystem: 'cartesian2d',
  silent: true,
  encode: { x: 0, y: 1 },
  data: elementPos.map(function (x) { return [x, elementLabelY]; }),
  renderItem: function (params, api) {
    const p = api.coord([api.value(0), api.value(1)]);
    return {
      type: 'text', x: p[0], y: p[1], rotation: Math.PI / 2,
      style: { text: elementNames[params.dataIndex], fontSize: 35, fontFamily: SERIF,
        fill: '#111', align: 'center', verticalAlign: 'middle' }
    };
  }
});

const chart = echarts.init(document.getElementById('chart'), null, { renderer: 'svg' });

chart.setOption({
  animation: false,
  backgroundColor: '#fff8e6',
  graphic: [{
    type: 'rect', left: 12, top: 8, z: -10, silent: true,
    shape: { width: 1497, height: 1042 }, style: { fill: '#ffffff' }
  }],
  title: {
    text: 'Energy Deposition Distribution for IR7',
    left: 749, top: 12, textAlign: 'center',
    textStyle: { fontSize: 37, fontWeight: 'normal', fontFamily: FONT, color: '#111' }
  },
  legend: {
    orient: 'vertical', right: 225, top: 790, padding: 0, itemGap: 0,
    align: 'right', itemWidth: 97, itemHeight: 14,
    selectedMode: false,
    itemStyle: { borderWidth: 0 },
    textStyle: { fontSize: 28, fontFamily: FONT, color: TEXT_COLOR, lineHeight: 29 },
    data: SERIES_DEFS.map(function (d) {
      return { name: d.name, icon: d.marker === 'square' ? ICON_SQ : ICON_TRI, itemStyle: { color: d.color } };
    })
  },
  grid: { left: 191, right: 194, top: 64, bottom: 100, containLabel: false },
  xAxis: [
    {
      type: 'value', min: 37970, max: 43850, position: 'bottom',
      axisLine: { lineStyle: { color: AXIS_COLOR, width: 2 } },
      axisTick: { inside: true, length: 12, customValues: xTickValues, lineStyle: { color: AXIS_COLOR, width: 2 } },
      axisLabel: { customValues: xTickValues, formatter: xLabel, fontSize: 28, fontFamily: FONT, color: TEXT_COLOR, margin: 12 },
      splitLine: { show: false },
      name: 'Position Z / cm', nameLocation: 'middle', nameGap: 57,
      nameTextStyle: { fontSize: 30, fontFamily: FONT, color: TEXT_COLOR }
    },
    {
      type: 'value', min: 37970, max: 43850, position: 'top',
      axisLine: { lineStyle: { color: AXIS_COLOR, width: 2 } },
      axisTick: { inside: true, length: 12, customValues: xTickValues, lineStyle: { color: AXIS_COLOR, width: 2 } },
      axisLabel: { show: false },
      splitLine: { show: false }
    }
  ],
  yAxis: [
    {
      type: 'log', logBase: 10, min: 1e-16, max: 1, interval: 1, position: 'left',
      axisLine: { lineStyle: { color: AXIS_COLOR, width: 2 } },
      axisTick: { inside: true, length: 12, lineStyle: { color: AXIS_COLOR, width: 2 } },
      axisLabel: { formatter: yLabel, fontSize: 28, fontFamily: FONT, color: TEXT_COLOR, margin: 19 },
      splitLine: { show: false },
      minorTick: { show: false },
      name: '{t|Peak Energy Density ( mJ/ cm}{s|3}{t| ) & ( mJ/cm )}',
      nameLocation: 'middle', nameRotate: 90, nameGap: 127,
      nameTextStyle: {
        fontSize: 31, fontFamily: FONT, color: TEXT_COLOR,
        rich: {
          t: { fontSize: 31, fontFamily: FONT, color: TEXT_COLOR, lineHeight: 36 },
          s: { fontSize: 20, fontFamily: FONT, color: TEXT_COLOR, verticalAlign: 'top', lineHeight: 36 }
        }
      }
    },
    {
      type: 'log', logBase: 10, min: 1e-16, max: 1, interval: 1, position: 'right',
      axisLine: { lineStyle: { color: AXIS_COLOR, width: 2 } },
      axisTick: { inside: true, length: 7, lineStyle: { color: AXIS_COLOR, width: 2 } },
      axisLabel: { formatter: yLabel, fontSize: 28, fontFamily: FONT, color: TEXT_COLOR, margin: 27 },
      splitLine: { show: false },
      name: 'BLM Peak Charge Density (nC)',
      nameLocation: 'middle', nameRotate: 90, nameGap: 150,
      nameTextStyle: { fontSize: 30, fontFamily: FONT, color: TEXT_COLOR }
    },
    {
      type: 'log', logBase: 10, min: 1e-16, max: 1, interval: 2, position: 'right',
      axisLine: { show: false },
      axisTick: { inside: true, length: 12, lineStyle: { color: AXIS_COLOR, width: 2 } },
      axisLabel: { show: false },
      splitLine: { show: false }
    }
  ],
  series: series
});
</script>
</body>
</html>
